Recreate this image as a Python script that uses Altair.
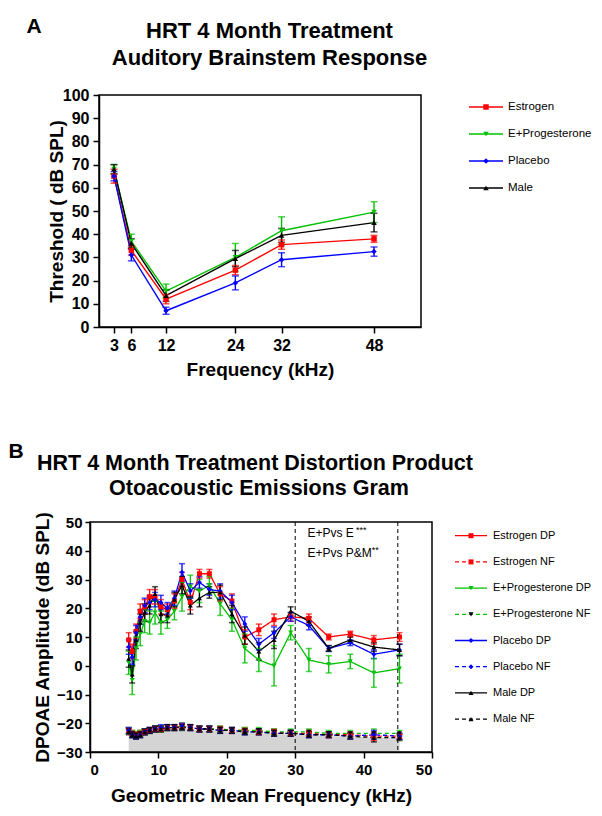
import altair as alt
import pandas as pd

# ---------------- Panel A: ABR thresholds (dB SPL) ----------------
abr_freq = [3, 6, 12, 24, 32, 48]
abr_groups = ["Estrogen", "E+Progesterone", "Placebo", "Male"]
abr_estrogen = [65, 33, 12, 24.5, 35.5, 38]
abr_estrogen_err = [3, 2, 2, 2, 2, 1.5]
abr_eprog = [68, 37, 15.5, 30, 41.5, 49.5]
abr_eprog_err = [2, 3, 3, 6, 6, 4.5]
abr_placebo = [65, 31, 7, 19, 29, 32.5]
abr_placebo_err = [2, 2.5, 1.5, 3, 3, 2]
abr_male = [68, 36, 13.5, 29.5, 39.5, 45]
abr_male_err = [2, 2, 2.5, 3.5, 3, 4]

# ---------------- Panel B: DPOAE gram ----------------
dp_freq = [5.66, 6.17, 6.73, 7.34, 8.0, 8.72, 9.51, 10.37, 11.31, 12.34, 13.45, 14.67,
           16.0, 17.45, 19.03, 20.75, 22.63, 24.68, 26.91, 29.34, 32.0, 34.9, 38.05, 41.5, 45.25]
dp_estrogen = [9, 5, 12, 19, 20.5, 24, 24, 20.5, 19.5, 22.5, 30, 22, 32, 32, 25, 22.5,
               10, 12.5, 16, 17, 16.5, 10, 11, 9, 10]
dp_estrogen_err = [2.5, 2.5, 2.5, 2.5, 2.5, 2.5, 2.5, 2.5, 2, 2.5, 2.5, 2.5, 1.5, 1.5, 2.5, 2.5,
                   2.5, 2, 2, 1.5, 1.5, 1, 1, 1.5, 1.5]
dp_eprog = [1, -5, 6, 11, 15.5, 15, 18.5, 15, 16, 19, 24, 27.5, 26, 28, 21.5, 16,
            6, 2, 0, 11.5, 2, 0.5, 1.5, -2.5, -1]
dp_eprog_err = [4, 5, 4, 4, 4, 4, 4, 4, 3, 3, 5, 4, 4, 3, 4, 4, 5, 4, 7, 2.5, 4, 3, 2.5, 5, 5]
dp_placebo = [6.5, 3, 11.5, 17, 21, 22, 23, 22, 20, 23.5, 32.5, 26, 29, 26.5, 26, 22,
              14.5, 7.5, 11.5, 17, 14, 6, 8, 4, 5.5]
dp_placebo_err = [2.5, 2.5, 2.5, 2.5, 2.5, 2.5, 2.5, 2.5, 2, 2.5, 3, 2.5, 2, 2, 2.5, 2.5,
                  2.5, 2, 2, 1.5, 1.5, 1, 1, 1.5, 2]
dp_male = [2.5, -3, 9, 15, 18.5, 21, 25, 18, 17.5, 23, 28, 21, 23.5, 25.5, 25.5, 18,
           10.5, 5, 9, 19, 15.5, 6, 9, 6.5, 5.5]
dp_male_err = [3, 3, 3, 3, 3, 3, 2.5, 3, 2.5, 2.5, 3, 3, 3, 2, 2.5, 3, 3, 3, 3, 1.5, 1.5, 1, 1, 1.5, 2]

nf_estrogen = [-22.5, -23.5, -24, -23.5, -23, -22.5, -22, -22, -21.5, -21.5, -21, -21.5,
               -22, -22, -22, -22.5, -22.5, -23, -23, -23.5, -23.5, -24, -24, -24.5, -24.5]
nf_eprog = [-22.5, -23.5, -24, -23.5, -23, -22.5, -22, -22, -21.5, -21.5, -21, -21.5,
            -22, -22, -22, -22.5, -22.5, -22.5, -23, -23, -23, -23.5, -23.5, -23.5, -23.5]
nf_placebo = [-22.5, -24, -24.5, -24, -23, -22.5, -22, -21.5, -21.5, -21.5, -21, -21.5,
              -22, -22, -22.5, -22.5, -23, -23, -23.5, -23.5, -24, -24, -24.5, -24, -24.5]
nf_male = [-23, -24, -24.5, -24, -23, -22.5, -22, -22, -21.5, -21.5, -21.5, -21.5,
           -22, -22, -22.5, -22.5, -23, -23, -23.5, -23.5, -24, -24, -24.5, -25, -25]
nf_err = [1, 1, 1, 1, 1, 1, 1, 1, 1, 1, 1, 1, 1, 1, 1, 1, 1, 1, 1, 1, 1, 1, 1, 1.5, 1]
nf_shade = [-23, -24, -24.5, -24, -23.5, -23, -22.5, -22, -22, -22, -21.5, -22,
            -22.5, -22.5, -22.5, -23, -23, -23.5, -23.5, -24, -24, -24.5, -24.5, -25, -25]

region_bounds = [30, 45]
stat_text = ["E+Pvs E", "E+Pvs P&M"]
stat_x = [31.8, 31.8]
stat_y = [46.3, 39.3]
star_text = ["***", "**"]
star_x = [38.9, 41.2]
star_y = [47.2, 40.2]

# ---------------- styles ----------------
FONT = "Liberation Sans"
RED, GREEN, BLUE, BLACK = "#ff0000", "#00c000", "#0000ff", "#000000"


def long_table(freqs, names, vals, errs):
    rows = []
    for n, vs, es in zip(names, vals, errs):
        for f, v, e in zip(freqs, vs, es):
            rows.append({"series": n, "freq": f, "val": v, "lo": v - e, "hi": v + e})
    return pd.DataFrame(rows)


def axis_style(**kw):
    base = dict(domainColor="black", domainWidth=1.5, tickColor="black", tickWidth=1.5,
                grid=False, labelFont=FONT, labelFontSize=16, labelFontWeight="bold",
                labelColor="black", titleFont=FONT, titleFontSize=19,
                titleFontWeight="bold", titleColor="black")
    base.update(kw)
    return alt.Axis(**base)


def text_at(t, x, y, size, weight="normal", align="center"):
    return alt.Chart(pd.DataFrame({"t": [t]})).mark_text(
        font=FONT, fontSize=size, fontWeight=weight, align=align,
        baseline="alphabetic", color="black"
    ).encode(text="t:N", x=alt.value(x), y=alt.value(y))


def legend_table(names, top, step):
    return pd.DataFrame({"series": names,
                         "kind": [n.split()[-1] for n in names],
                         "ly": [top + step * i for i in range(len(names))]})


# ================= Panel A =================
WA, HA = 331, 232
dfA = long_table(abr_freq, abr_groups,
                 [abr_estrogen, abr_eprog, abr_placebo, abr_male],
                 [abr_estrogen_err, abr_eprog_err, abr_placebo_err, abr_male_err])
xA_dom = [0.4, 56.13]
yA_dom = [0, 100]
xA = alt.Scale(domain=xA_dom, range=[9, WA], nice=False, zero=False)
yA = alt.Scale(domain=yA_dom, nice=False, zero=False)
axXA = axis_style(values=abr_freq, title="Frequency (kHz)", tickSize=6, labelPadding=4,
                  titleY=48, titleBaseline="alphabetic")
axYA = axis_style(values=list(range(0, 101, 10)), title="Threshold ( dB SPL)", offset=-9,
                  tickSize=6, labelPadding=4, titleX=-43, titleBaseline="middle")
cA = alt.Scale(domain=abr_groups, range=[RED, GREEN, BLUE, BLACK])
sA = alt.Scale(domain=abr_groups, range=["square", "triangle-down", "diamond", "triangle-up"])
colA = alt.Color("series:N", scale=cA, legend=None)
shpA = alt.Shape("series:N", scale=sA, legend=None)


def XA(field):
    return alt.X(field, type="quantitative", scale=xA, axis=axXA)


def YA(field):
    return alt.Y(field, type="quantitative", scale=yA, axis=axYA)


baseA = alt.Chart(dfA)
linesA = baseA.mark_line(strokeWidth=1.4).encode(x=XA("freq"), y=YA("val"), color=colA)
errA = baseA.mark_rule(strokeWidth=1.4).encode(x=XA("freq"), y=YA("lo"), y2="hi:Q", color=colA)
capLoA = baseA.mark_tick(orient="horizontal", size=7, thickness=1.5).encode(
    x=XA("freq"), y=YA("lo"), color=colA)
capHiA = baseA.mark_tick(orient="horizontal", size=7, thickness=1.5).encode(
    x=XA("freq"), y=YA("hi"), color=colA)
ptsA = baseA.mark_point(filled=True, size=30, opacity=1).encode(
    x=XA("freq"), y=YA("val"), color=colA, shape=shpA)
frameA = alt.Chart(pd.DataFrame({"k": [0]})).mark_rect(
    fillOpacity=0, stroke="black", strokeWidth=1.5).encode(
    x=alt.X(datum=xA_dom[0], type="quantitative", axis=axXA), x2=alt.X2(datum=xA_dom[1]),
    y=alt.Y(datum=yA_dom[0], type="quantitative", axis=axYA), y2=alt.Y2(datum=yA_dom[1]))

legA = legend_table(abr_groups, 12, 27)
lyA = alt.Y("ly:Q", scale=None)
legLineA = alt.Chart(legA).mark_rule(strokeWidth=1.4).encode(
    x=alt.value(379), x2=alt.value(413), y=lyA, color=colA)
legPtA = alt.Chart(legA).mark_point(filled=True, size=30, opacity=1).encode(
    x=alt.value(396), y=lyA, color=colA, shape=shpA)
legTxtA = alt.Chart(legA).mark_text(align="left", baseline="middle", font=FONT,
                                     fontSize=11.5, color="black").encode(
    x=alt.value(418), y=lyA, text="series:N")

panelA = alt.layer(
    linesA, errA, capLoA, capHiA, ptsA, frameA,
    legLineA, legPtA, legTxtA,
    text_at("A", -56, -62, 21, "bold"),
    text_at("HRT 4 Month Treatment", 179.5, -57.5, 22, "bold"),
    text_at("Auditory Brainstem Response", 179.5, -30.5, 22, "bold"),
).properties(width=WA, height=HA)

# ================= Panel B =================
WB, HB = 342, 230
dp_names = ["Estrogen DP", "Estrogen NF", "E+Progesterone DP", "E+Progesterone NF",
            "Placebo DP", "Placebo NF", "Male DP", "Male NF"]
line_colors = [RED, RED, GREEN, GREEN, BLUE, BLUE, BLACK, BLACK]
marker_colors = [RED, RED, GREEN, BLACK, BLUE, BLUE, BLACK, BLACK]
marker_shapes = ["square", "square", "triangle-down", "triangle-down",
                 "diamond", "diamond", "triangle-up", "triangle-up"]

dfNF = long_table(dp_freq, ["Estrogen NF", "E+Progesterone NF", "Placebo NF", "Male NF"],
                  [nf_estrogen, nf_eprog, nf_placebo, nf_male],
                  [nf_err, nf_err, nf_err, nf_err])
dfDP = long_table(dp_freq, ["Estrogen DP", "E+Progesterone DP", "Placebo DP", "Male DP"],
                  [dp_estrogen, dp_eprog, dp_placebo, dp_male],
                  [dp_estrogen_err, dp_eprog_err, dp_placebo_err, dp_male_err])
dfShade = pd.DataFrame({"freq": dp_freq, "top": nf_shade})

xB_dom = [0, 50]
yB_dom = [-30, 50]
xB = alt.Scale(domain=xB_dom, nice=False, zero=False)
yB = alt.Scale(domain=yB_dom, nice=False, zero=False)
axXB = axis_style(values=[0, 10, 20, 30, 40, 50], title="Geometric Mean Frequency (kHz)",
                  tickSize=6, labelPadding=4, labelFontSize=15, titleY=49.5,
                  titleBaseline="alphabetic")
axYB = axis_style(values=list(range(-30, 51, 10)), title="DPOAE Amplitude (dB SPL)",
                  tickSize=5, labelPadding=3, labelFontSize=15, titleX=-48,
                  titleBaseline="middle")
cB = alt.Scale(domain=dp_names, range=line_colors)
fB = alt.Scale(domain=dp_names, range=marker_colors)
sB = alt.Scale(domain=dp_names, range=marker_shapes)
colB = alt.Color("series:N", scale=cB, legend=None)
fillB = alt.Fill("series:N", scale=fB, legend=None)
shpB = alt.Shape("series:N", scale=sB, legend=None)


def XB(field):
    return alt.X(field, type="quantitative", scale=xB, axis=axXB)


def YB(field):
    return alt.Y(field, type="quantitative", scale=yB, axis=axYB)


shade = alt.Chart(dfShade).mark_area(color="#d4d4d4", opacity=1).encode(
    x=XB("freq"), y=YB("top"), y2=alt.Y2(datum=-30))


def series_layers(df, dash):
    b = alt.Chart(df)
    ln = b.mark_line(strokeWidth=1.3, strokeDash=dash).encode(
        x=XB("freq"), y=YB("val"), color=colB)
    er = b.mark_rule(strokeWidth=1.3).encode(x=XB("freq"), y=YB("lo"), y2="hi:Q", color=colB)
    lo = b.mark_tick(orient="horizontal", size=6, thickness=1.5).encode(
        x=XB("freq"), y=YB("lo"), color=colB)
    hi = b.mark_tick(orient="horizontal", size=6, thickness=1.5).encode(
        x=XB("freq"), y=YB("hi"), color=colB)
    pt = b.mark_point(filled=True, size=25, opacity=1, strokeWidth=0).encode(
        x=XB("freq"), y=YB("val"), fill=fillB, shape=shpB)
    return [ln, er, lo, hi, pt]


regions = alt.Chart(pd.DataFrame({"x": region_bounds})).mark_rule(
    strokeDash=[4, 3], color="black", strokeWidth=1).encode(x=XB("x"))
stats = alt.Chart(pd.DataFrame({"x": stat_x, "y": stat_y, "t": stat_text})).mark_text(
    align="left", baseline="middle", font=FONT, fontSize=12, color="black").encode(
    x=XB("x"), y=YB("y"), text="t:N")
stars = alt.Chart(pd.DataFrame({"x": star_x, "y": star_y, "t": star_text})).mark_text(
    align="left", baseline="middle", font=FONT, fontSize=9, color="black").encode(
    x=XB("x"), y=YB("y"), text="t:N")
frameB = alt.Chart(pd.DataFrame({"k": [0]})).mark_rect(
    fillOpacity=0, stroke="black", strokeWidth=1.5).encode(
    x=alt.X(datum=xB_dom[0], type="quantitative", axis=axXB), x2=alt.X2(datum=xB_dom[1]),
    y=alt.Y(datum=yB_dom[0], type="quantitative", axis=axYB), y2=alt.Y2(datum=yB_dom[1]))

legB = legend_table(dp_names, 13.7, 26.2)
lyB = alt.Y("ly:Q", scale=None)
legLineB = alt.Chart(legB).mark_rule(strokeWidth=1.3).encode(
    x=alt.value(365), x2=alt.value(397), y=lyB, color=colB,
    strokeDash=alt.StrokeDash("kind:N", scale=alt.Scale(domain=["DP", "NF"], range=[[1, 0], [4, 3]]), legend=None))
legPtB = alt.Chart(legB).mark_point(filled=True, size=25, opacity=1, strokeWidth=0).encode(
    x=alt.value(381), y=lyB, fill=fillB, shape=shpB)
legTxtB = alt.Chart(legB).mark_text(align="left", baseline="middle", font=FONT,
                                     fontSize=11, color="black").encode(
    x=alt.value(403), y=lyB, text="series:N")

panelB = alt.layer(
    shade, *series_layers(dfNF, [4, 3]), *series_layers(dfDP, [1, 0]),
    regions, stats, stars, frameB,
    legLineB, legPtB, legTxtB,
    text_at("B", -74, -64, 21, "bold"),
    text_at("HRT 4 Month Treatment Distortion Product", 165, -52, 21.5, "bold"),
    text_at("Otoacoustic Emissions Gram", 169, -27, 21.5, "bold"),
).properties(width=WB, height=HB)

chart = alt.vconcat(panelA, panelB, spacing=62).resolve_scale(
    color="independent", fill="independent", shape="independent", strokeDash="independent"
).properties(
    padding={"left": 0, "top": 8, "right": 0, "bottom": 0}
).configure_view(strokeWidth=0)

chart.save("out.html", embed_options={"renderer": "svg", "actions": False})
